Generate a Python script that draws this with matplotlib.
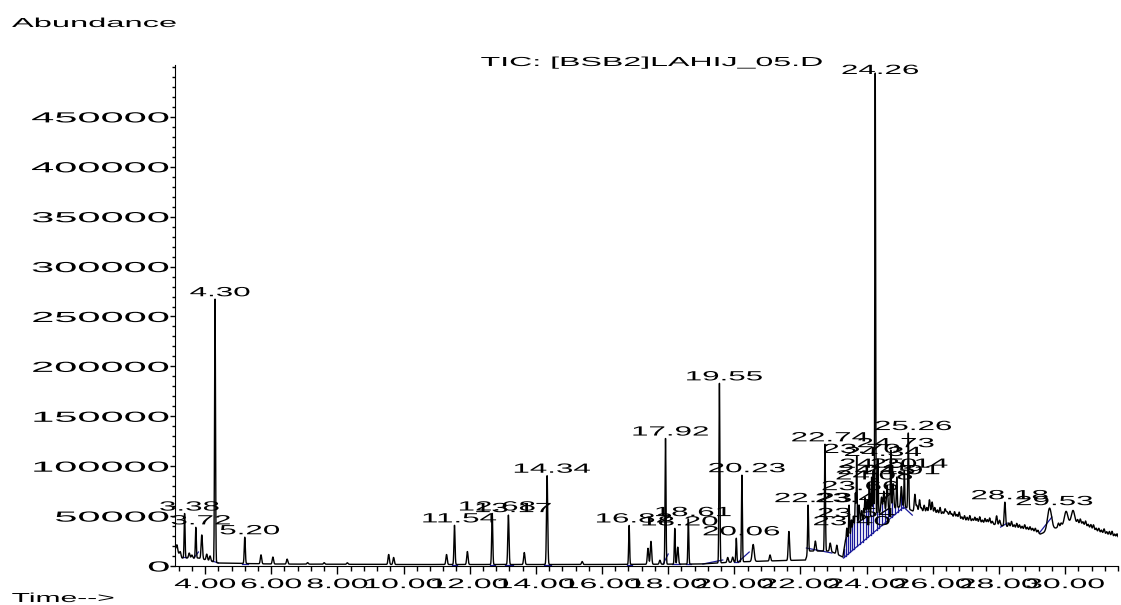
import numpy as np
import matplotlib
matplotlib.use("Agg")
import matplotlib.pyplot as plt
from matplotlib.patheffects import AbstractPathEffect
from matplotlib.transforms import Affine2D
from matplotlib.ticker import FixedLocator, MultipleLocator

# ---------------- data ----------------
# labelled peaks: retention time (min), apex abundance, width (min)
label_times = [3.38, 3.72, 4.30, 5.20, 11.54, 12.68, 13.17, 14.34, 16.82, 17.92,
               18.20, 18.61, 19.55, 20.06, 20.23, 22.23, 22.74,
               23.40, 23.47, 23.54, 23.66, 23.70, 24.08, 24.15, 24.20, 24.26,
               24.34, 24.73, 24.91, 25.14, 25.26, 28.18, 29.53]
label_apex = [53000, 39000, 270000, 29000, 41000, 53000, 51000, 91000, 41000, 129000,
              38000, 47000, 183000, 28000, 91000, 61000, 123000,
              38000, 61000, 46000, 73000, 111000, 84000, 89000, 96000, 500000,
              108000, 116000, 89000, 96000, 134000, 64000, 58000]
label_widths = [0.014, 0.014, 0.014, 0.016, 0.016, 0.016, 0.018, 0.018, 0.014, 0.014,
                0.014, 0.014, 0.014, 0.014, 0.014, 0.014, 0.014,
                0.012, 0.012, 0.012, 0.012, 0.012, 0.012, 0.012, 0.012, 0.012,
                0.012, 0.012, 0.012, 0.012, 0.014, 0.02, 0.06]
label_top_limit = 490000   # labels are kept inside the plotting frame

# unlabelled peaks: time, height above the background, width
minor_times = [3.15, 3.25, 3.52, 3.60, 3.90, 4.05, 4.15, 5.69, 6.05, 6.48, 7.1, 7.6,
               8.3, 9.55, 9.70, 11.30, 11.93, 13.65, 15.40, 17.39, 17.48, 17.75,
               18.29, 19.80, 19.95, 20.57, 21.08, 21.65, 22.45, 22.90, 23.10,
               23.60, 23.77, 23.85, 23.95, 24.02, 24.45, 24.52, 24.62, 24.80,
               25.05, 25.46, 25.60, 25.90, 25.98, 26.43, 27.93, 30.03, 30.24]
minor_heights = [6000, 4000, 5000, 3000, 24000, 6000, 5000, 9000, 7000, 5000, 1500, 1500,
                 1500, 10000, 7000, 10000, 13000, 12000, 3000, 16000, 23000, 4000,
                 17000, 5000, 5000, 17000, 6000, 29000, 10000, 8000, 9000,
                 14000, 20000, 12000, 22000, 18000, 15000, 20000, 25000, 25000,
                 20000, 17000, 12000, 13000, 11000, 4000, 9000, 13000, 13000]
minor_widths = [0.02, 0.02, 0.02, 0.02, 0.02, 0.02, 0.02, 0.02, 0.02, 0.02, 0.02, 0.02,
                0.02, 0.02, 0.02, 0.02, 0.02, 0.02, 0.02, 0.02, 0.02, 0.02,
                0.02, 0.02, 0.02, 0.03, 0.02, 0.02, 0.02, 0.02, 0.02,
                0.02, 0.02, 0.02, 0.02, 0.02, 0.02, 0.02, 0.02, 0.02,
                0.02, 0.02, 0.02, 0.02, 0.02, 0.03, 0.02, 0.05, 0.05]

# small wiggles riding on the late hump
wiggle_times = [25.52, 25.66, 25.74, 25.82, 26.06, 26.14, 26.22, 26.30, 26.37, 26.52,
                26.58, 26.66, 26.73, 26.80, 26.88, 26.96, 27.04, 27.12, 27.20, 27.27,
                27.34, 27.42, 27.50, 27.58, 27.65, 27.72, 27.80, 28.02, 28.30, 28.38,
                28.46, 28.54, 28.62, 28.70, 28.78, 28.86, 28.94, 29.02, 29.10, 29.18,
                29.80, 29.88, 30.38, 30.46, 30.54, 30.62, 30.70, 30.78, 30.86, 30.94,
                31.02, 31.10, 31.18, 31.26, 31.34, 31.42, 31.50, 31.57]
wiggle_heights = [6000, 4000, 7000, 5000, 6000, 4000, 7000, 3000, 6000, 5000,
                  3000, 6000, 4000, 7000, 3000, 5000, 4000, 6000, 3000, 5000,
                  4000, 6000, 3000, 5000, 4000, 6000, 3000, 5000, 4000, 6000,
                  3000, 5000, 4000, 3000, 5000, 3000, 4000, 3000, 4000, 3000,
                  4000, 3000, 4000, 5000, 3000, 5000, 3000, 4000, 5000, 3000,
                  4000, 3000, 5000, 3000, 4000, 5000, 3000, 4000]

# slowly varying background of the trace (time, abundance)
base_times = [3.09, 3.30, 3.80, 4.40, 6.0, 10.0, 16.0, 19.0, 20.0, 21.0, 22.15, 22.25,
              22.9, 23.28, 23.36, 23.60, 24.00, 24.60, 25.10, 25.40, 26.0, 26.5, 27.0,
              27.5, 28.0, 28.5, 29.0, 29.25, 29.8, 30.13, 30.5, 31.0, 31.6]
base_levels = [18000, 8000, 8000, 3000, 2000, 1500, 1500, 2000, 4000, 5000, 6000, 15000,
               15000, 9000, 26000, 36000, 48000, 56000, 60000, 55000, 53000, 50000, 45000,
               43000, 41000, 38000, 35000, 32000, 39000, 43000, 42000, 34000, 28000]

# integration baselines drawn in blue (start, end, level at start, level at end)
int_start = [3.30, 3.66, 4.22, 5.12, 11.46, 12.60, 13.08, 14.25, 16.75, 17.85, 18.12,
             18.55, 19.05, 19.98, 20.15, 22.18, 28.05, 29.22]
int_end = [3.45, 3.80, 4.40, 5.30, 11.62, 12.76, 13.30, 14.45, 16.90, 18.00, 18.35,
           18.70, 19.65, 20.12, 20.45, 22.95, 28.25, 29.60]
int_lev0 = [9000, 8000, 5000, 2000, 1500, 1500, 1500, 1500, 1500, 2000, 2000,
            2000, 2000, 4000, 5000, 18000, 39000, 33000]
int_lev1 = [9000, 14000, 3000, 2000, 1500, 1500, 1500, 1500, 1500, 12000, 2000,
            2000, 6000, 4000, 14000, 13000, 43000, 49000]

# drop lines of the unresolved hump (23.3 - 25.4 min)
hump_line_t = [23.30, 25.12, 25.38]
hump_line_y = [8000, 59000, 51000]
drop_times = [23.32, 23.38, 23.44, 23.50, 23.57, 23.63, 23.72, 23.80, 23.88, 23.98,
              24.05, 24.12, 24.18, 24.30, 24.38, 24.48, 24.56, 24.66, 24.76, 24.86,
              24.95, 25.03, 25.10]

x_major = [4, 6, 8, 10, 12, 14, 16, 18, 20, 22, 24, 26, 28, 30]
x_tick_labels = ["4.00", "6.00", "8.00", "10.00", "12.00", "14.00", "16.00", "18.00",
                 "20.00", "22.00", "24.00", "26.00", "28.00", "30.00"]
y_major = [0, 50000, 100000, 150000, 200000, 250000, 300000, 350000, 400000, 450000]
y_tick_labels = ["0", "50000", "100000", "150000", "200000", "250000", "300000",
                 "350000", "400000", "450000"]

title_text = "TIC: [BSB2]LAHIJ_05.D"
ylabel_text = "Abundance"
xlabel_text = "Time-->"


# ---------------- horizontally stretched text (the reference font is wide) ---------
class HStretch(AbstractPathEffect):
    def __init__(self, sx, frac):
        super().__init__()
        self.sx = sx
        self.frac = frac

    def draw_path(self, renderer, gc, tpath, affine, rgbFace=None):
        ext = tpath.get_extents()
        px = ext.x0 + self.frac * ext.width
        tr = Affine2D().translate(-px, 0).scale(self.sx, 1).translate(px, 0)
        renderer.draw_path(gc, tpath, tr + affine, rgbFace)


FONT = "Liberation Sans"
BLUE = "#1a1a9a"

W, H, DPI = 1121, 605, 100
fig = plt.figure(figsize=(W / DPI, H / DPI), dpi=DPI)
ax = fig.add_axes([175 / W, 1 - 566 / H, (1118 - 175) / W, (566 - 65) / H])


def gauss_sum(tt, centers, heights, widths):
    out = np.zeros_like(tt)
    for c, h, w in zip(centers, heights, widths):
        out += h * np.exp(-0.5 * ((tt - c) / w) ** 2)
    return out


t = np.arange(3.09, 31.6, 0.004)
background = np.interp(t, base_times, base_levels)
label_amp = [a - np.interp(c, base_times, base_levels) for c, a in zip(label_times, label_apex)]
y = (background
     + gauss_sum(t, label_times, label_amp, label_widths)
     + gauss_sum(t, minor_times, minor_heights, minor_widths)
     + gauss_sum(t, wiggle_times, wiggle_heights, [0.02] * len(wiggle_times)))
ax.plot(t, y, color="black", lw=1.0, zorder=3)

# blue integration marks
for a, b, l0, l1 in zip(int_start, int_end, int_lev0, int_lev1):
    ax.plot([a, b], [l0, l1], color=BLUE, lw=0.9, zorder=2)
ax.plot(hump_line_t, hump_line_y, color=BLUE, lw=0.9, zorder=2)
for td in drop_times:
    lo = np.interp(td, hump_line_t, hump_line_y)
    hi = np.interp(td, t, y)
    ax.plot([td, td], [lo, hi], color=BLUE, lw=0.9, zorder=2)

# peak labels
for tc in label_times:
    apex = float(np.interp(tc, t, y))
    ty = min(apex, label_top_limit)
    txt = ax.annotate("%.2f" % tc, (tc, ty), xytext=(3.6, 0), textcoords="offset points",
                      ha="center", va="bottom", fontsize=9.6, family=FONT, zorder=4)
    txt.set_path_effects([HStretch(2.35, 0.5)])

ax.set_xlim(3.09, 31.6)
ax.set_ylim(0, 502000)
for s in ["top", "right"]:
    ax.spines[s].set_visible(False)

ax.xaxis.set_major_locator(FixedLocator(x_major))
ax.set_xticklabels(x_tick_labels)
ax.xaxis.set_minor_locator(MultipleLocator(0.4))
ax.yaxis.set_major_locator(FixedLocator(y_major))
ax.set_yticklabels(y_tick_labels)
ax.yaxis.set_minor_locator(MultipleLocator(10000))
ax.tick_params(axis="x", which="major", length=6, width=1, direction="out", pad=2)
ax.tick_params(axis="x", which="minor", length=3.5, width=1, direction="out")
ax.tick_params(axis="y", which="major", length=3.5, width=1, direction="out", pad=0.5)
ax.tick_params(axis="y", which="minor", length=2, width=1, direction="out")

for tk in ax.xaxis.get_major_ticks():
    tk.label1.set_fontfamily(FONT)
    tk.label1.set_fontsize(10)
    tk.label1.set_path_effects([HStretch(2.3, 0.5)])
for tk in ax.yaxis.get_major_ticks():
    tk.label1.set_fontfamily(FONT)
    tk.label1.set_fontsize(10.5)
    tk.label1.set_path_effects([HStretch(2.85, 1.0)])

tt = fig.text(481 / W, 1 - 66 / H, title_text, ha="left", va="baseline",
              fontsize=9.4, family=FONT)
tt.set_path_effects([HStretch(2.46, 0.0)])
yl = fig.text(12 / W, 1 - 27 / H, ylabel_text, ha="left", va="baseline",
              fontsize=9.4, family=FONT)
yl.set_path_effects([HStretch(2.5, 0.0)])
xl = fig.text(12 / W, 1 - 602 / H, xlabel_text, ha="left", va="baseline",
              fontsize=9.4, family=FONT)
xl.set_path_effects([HStretch(2.3, 0.0)])

fig.savefig("out.png", dpi=DPI)
